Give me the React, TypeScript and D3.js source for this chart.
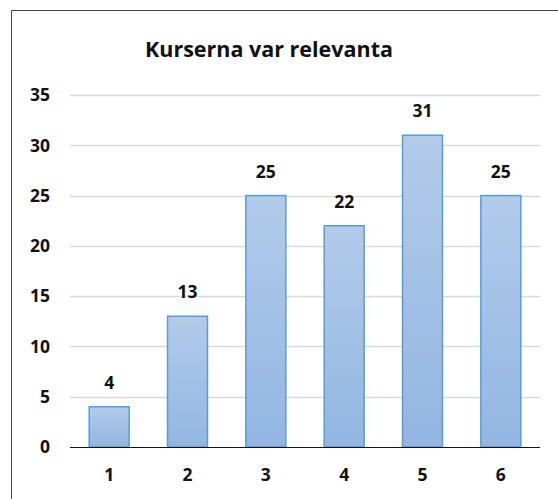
import React, { useRef, useEffect } from 'react';
import * as d3 from 'd3';

const categories = ['1', '2', '3', '4', '5', '6'];
const values = [4, 13, 25, 22, 31, 25];
const yTicks = [0, 5, 10, 15, 20, 25, 30, 35];
const title = 'Kurserna var relevanta';

const App = () => {
    const ref = useRef<SVGSVGElement>(null);

    useEffect(() => {
        const svg = d3.select(ref.current);
        svg.selectAll('*').remove();
        const W = 558, H = 499;
        const margin = { top: 95, right: 18, bottom: 52, left: 70 };
        const width = W - margin.left - margin.right;
        const height = H - margin.top - margin.bottom;
        const font = '"Open Sans", "DejaVu Sans", sans-serif';

        const defs = svg.append('defs');
        const grad = defs.append('linearGradient')
            .attr('id', 'barFill')
            .attr('x1', 0).attr('y1', 0).attr('x2', 0).attr('y2', 1);
        grad.append('stop').attr('offset', '0%').attr('stop-color', '#b3cbea');
        grad.append('stop').attr('offset', '100%').attr('stop-color', '#92b6e2');

        svg.append('rect')
            .attr('width', W).attr('height', H).attr('fill', '#fff');

        // outer frame (only top and left are visible in the picture)
        svg.append('path')
            .attr('d', `M11.5,${H} V10.5 H${W}`)
            .attr('fill', 'none')
            .attr('stroke', '#444')
            .attr('stroke-width', 1);

        svg.append('text')
            .attr('x', 269)
            .attr('y', 57)
            .attr('text-anchor', 'middle')
            .attr('font-family', font)
            .attr('font-weight', 'bold')
            .attr('font-size', 21.5)
            .attr('fill', '#111')
            .text(title);

        const g = svg.append('g').attr('transform', `translate(${margin.left},${margin.top})`);

        const x = d3.scaleBand().domain(categories).range([0, width]).paddingInner(0.49).paddingOuter(0.245);
        const y = d3.scaleLinear().domain([0, 35]).range([height, 0]);

        g.append('g')
            .selectAll('line')
            .data(yTicks.filter(t => t > 0))
            .join('line')
            .attr('x1', 0).attr('x2', width)
            .attr('y1', d => Math.round(y(d)) + 0.5)
            .attr('y2', d => Math.round(y(d)) + 0.5)
            .attr('stroke', '#d9d9d9')
            .attr('stroke-width', 1.5);

        g.append('g')
            .selectAll('text')
            .data(yTicks)
            .join('text')
            .attr('x', -20)
            .attr('y', d => y(d))
            .attr('dy', '0.36em')
            .attr('text-anchor', 'end')
            .attr('font-family', font)
            .attr('font-weight', 'bold')
            .attr('font-size', 17.5)
            .attr('fill', '#111')
            .text(d => d);

        g.append('g')
            .selectAll('rect')
            .data(values)
            .join('rect')
            .attr('x', (d, i) => x(categories[i])!)
            .attr('y', d => y(d))
            .attr('width', x.bandwidth())
            .attr('height', d => height - y(d))
            .attr('fill', 'url(#barFill)')
            .attr('stroke', '#5b9bd5')
            .attr('stroke-width', 1.5);

        g.append('line')
            .attr('x1', 0).attr('x2', width)
            .attr('y1', height + 0.5).attr('y2', height + 0.5)
            .attr('stroke', '#111')
            .attr('stroke-width', 1);

        g.append('g')
            .selectAll('text')
            .data(values)
            .join('text')
            .attr('x', (d, i) => x(categories[i])! + x.bandwidth() / 2)
            .attr('y', d => y(d) - 18)
            .attr('text-anchor', 'middle')
            .attr('font-family', font)
            .attr('font-weight', 'bold')
            .attr('font-size', 17.5)
            .attr('fill', '#111')
            .text(d => d);

        g.append('g')
            .selectAll('text')
            .data(categories)
            .join('text')
            .attr('x', d => x(d)! + x.bandwidth() / 2)
            .attr('y', height + 34)
            .attr('text-anchor', 'middle')
            .attr('font-family', font)
            .attr('font-weight', 'bold')
            .attr('font-size', 17.5)
            .attr('fill', '#111')
            .text(d => d);
    }, []);

    return (
        <svg ref={ref} width="558" height="499" style={{ position: 'absolute', left: 0, top: 0 }}></svg>
    );
};

export default App;
